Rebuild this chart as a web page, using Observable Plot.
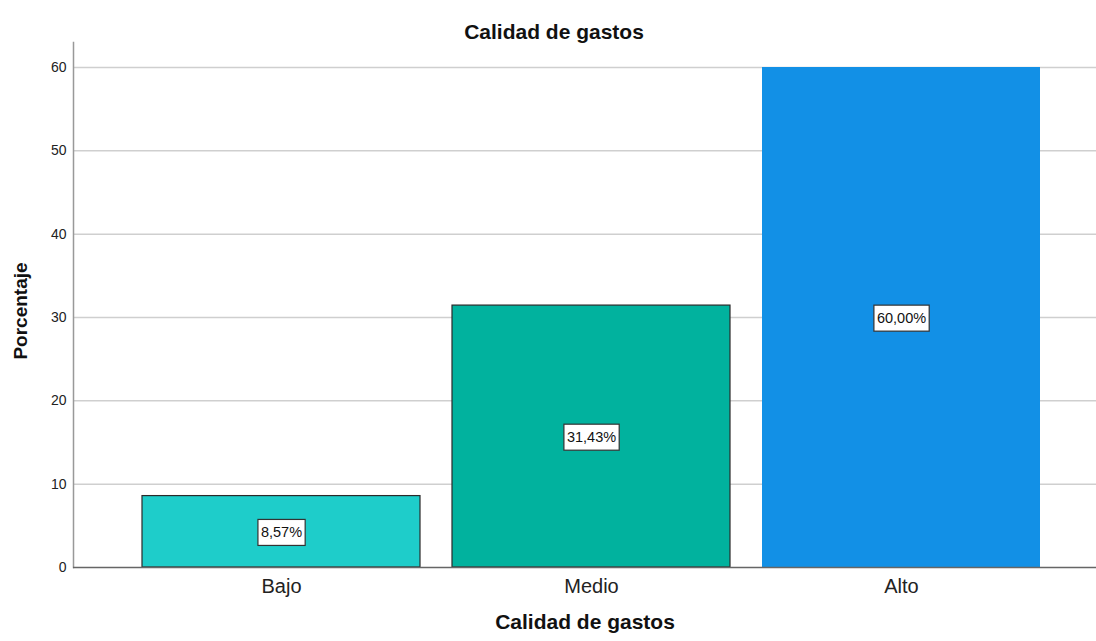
<!DOCTYPE html>
<html>
<head>
<meta charset="utf-8">
<script src="https://cdn.jsdelivr.net/npm/d3@7"></script>
<script src="https://cdn.jsdelivr.net/npm/@observablehq/plot@0.6"></script>
<style>
  html, body { margin: 0; padding: 0; background: #fff; }
  #chart svg { display: block; }
</style>
</head>
<body>
<div id="chart"></div>
<script>
const categories = ["Bajo", "Medio", "Alto"];
const values = [8.57, 31.43, 60.00];
const labels = ["8,57%", "31,43%", "60,00%"];
const colors = ["#1ecdca", "#01b29e", "#1290e6"];
const strokes = ["#2a2a2a", "#2a2a2a", "none"];
const yTicks = [0, 10, 20, 30, 40, 50, 60];
const title = "Calidad de gastos";
const xTitle = "Calidad de gastos";
const yTitle = "Porcentaje";

const data = categories.map((c, i) => ({cat: c, value: values[i], label: labels[i], color: colors[i], stroke: strokes[i]}));

const font = "'Liberation Sans', Arial, sans-serif";

const chart = Plot.plot({
  width: 1096,
  height: 641,
  marginTop: 42,
  marginBottom: 74,
  marginLeft: 73,
  marginRight: 0,
  style: {fontFamily: font, background: "#fff", overflow: "visible"},
  x: {domain: categories, range: [125, 1057], paddingInner: 0.103, paddingOuter: 0.0515, label: null},
  y: {domain: [0, 63], label: null},
  marks: [
    Plot.gridY(yTicks.filter(d => d > 0), {stroke: "#cfcfcf", strokeOpacity: 1, strokeWidth: 1.5}),
    Plot.axisY(yTicks, {tickSize: 0, tickPadding: 7, fontSize: 14, fill: "#222", label: null}),
    Plot.axisX({tickSize: 0, tickPadding: 11, fontSize: 20, fill: "#222", label: null}),
    Plot.frame({anchor: "left", stroke: "#999", strokeWidth: 1.5}),
    Plot.barY(data, {x: "cat", y: "value", fill: "color", stroke: "stroke", strokeWidth: 1.2}),
    Plot.ruleY([0], {stroke: "#666", strokeWidth: 1.5}),
    Plot.text(data, {x: "cat", y: d => d.value / 2, dy: 1, text: "label", fontSize: 14.5, fill: "#111"}),
    Plot.text([title], {frameAnchor: "top", dx: -31, dy: -18, fontSize: 21, fontWeight: "bold", fill: "#111"}),
    Plot.text([xTitle], {frameAnchor: "bottom", dy: 61, fontSize: 21, fontWeight: "bold", fill: "#111"}),
    Plot.text([yTitle], {frameAnchor: "left", textAnchor: "middle", dx: -53, dy: 6, rotate: -90, fontSize: 19, fontWeight: "bold", fill: "#111"})
  ]
});

document.getElementById("chart").appendChild(chart);

// white boxes behind value labels
chart.querySelectorAll("text").forEach(t => {
  if (!labels.includes(t.textContent)) return;
  const b = t.getBBox();
  const r = document.createElementNS("http://www.w3.org/2000/svg", "rect");
  const padX = 3, padY = 5;
  r.setAttribute("x", b.x - padX);
  r.setAttribute("y", b.y - padY);
  r.setAttribute("width", b.width + 2 * padX);
  r.setAttribute("height", b.height + 2 * padY);
  r.setAttribute("fill", "#fff");
  r.setAttribute("stroke", "#333");
  r.setAttribute("stroke-width", "1.2");
  const tr = t.getAttribute("transform");
  if (tr) r.setAttribute("transform", tr);
  t.parentNode.insertBefore(r, t);
});
</script>
</body>
</html>
